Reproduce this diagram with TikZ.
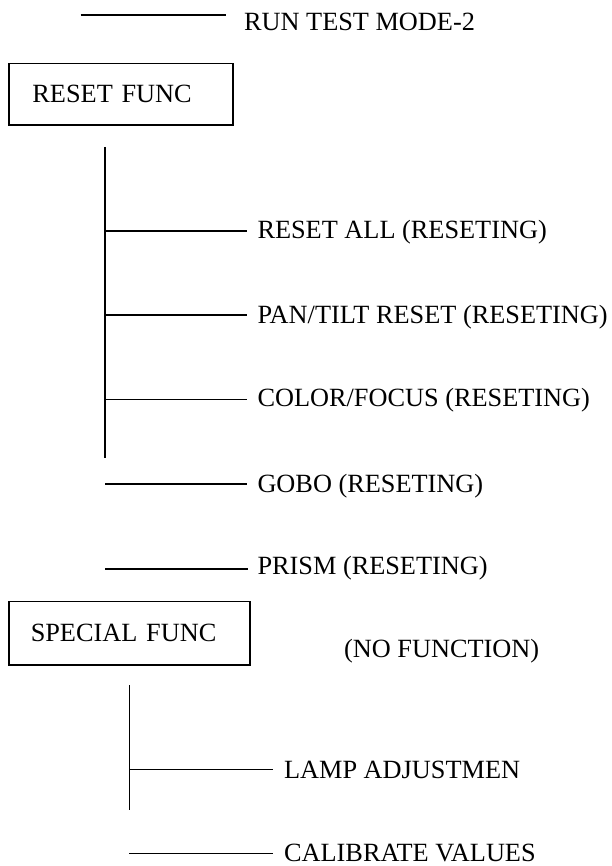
\documentclass[tikz,border=0pt]{standalone}
\usepackage{fontspec}
\setmainfont{Liberation Serif}
\begin{document}
\begin{tikzpicture}[x=1pt,y=-1pt,line width=1.6pt,
  lbl/.style={inner sep=0pt,anchor=base west,font=\fontsize{26.3}{30}\selectfont},
  funcbox/.style={draw,line width=1.5pt,anchor=north west,inner ysep=0pt,align=left,
     font=\fontsize{26.3}{30}\selectfont}]
\useasboundingbox (0,0) rectangle (612,866);
% top
\coordinate (t0) at (80.7,15);
\coordinate (t1) at (225.7,15);
\node[lbl] (run) at (243.3,30.5) {RUN TEST MODE-2};
\draw (t0) -- (t1);
% reset func box
\node[funcbox,inner xsep=23.4pt,text width=176.9pt,minimum height=61.6pt] (reset) at (8.3,62.7) {RESET FUNC};
% reset bar
\coordinate (rb0) at (105,147);
\coordinate (rb1) at (105,458);
\draw (rb0) -- (rb1);
\coordinate (ra0) at (105,231);  \coordinate (ra1) at (246.7,231);
\coordinate (pt0) at (105,315);  \coordinate (pt1) at (246.7,315);
\coordinate (cf0) at (105,399.3);\coordinate (cf1) at (246.7,399.3);
\coordinate (gb0) at (105,484);  \coordinate (gb1) at (246.7,484);
\coordinate (pr0) at (105,569);  \coordinate (pr1) at (248,569);
\draw (ra0) -- (ra1);
\draw (pt0) -- (pt1);
\draw (cf0) -- (cf1);
\draw (gb0) -- (gb1);
\draw (pr0) -- (pr1);
\node[lbl] (resetall) at (256.7,238.8) {RESET ALL (RESETING)};
\node[lbl] (pantilt) at (256.7,323.3) {PAN/TILT RESET (RESETING)};
\node[lbl] (colfoc) at (256.7,406.5) {COLOR/FOCUS (RESETING)};
\node[lbl] (gobo) at (256.7,492) {GOBO (RESETING)};
\node[lbl] (prism) at (256.7,574.5) {PRISM (RESETING)};
% special func
\node[funcbox,inner xsep=21.7pt,text width=197.6pt,minimum height=63.3pt] (special) at (8.3,600.7) {SPECIAL FUNC};
\node[lbl] (nofunc) at (343.3,657.5) {(NO FUNCTION)};
\coordinate (sb0) at (129.3,685);
\coordinate (sb1) at (129.3,810);
\draw (sb0) -- (sb1);
\coordinate (la0) at (129.3,769.3); \coordinate (la1) at (273.3,769.3);
\coordinate (ca0) at (129.3,853.3); \coordinate (ca1) at (273.3,853.3);
\draw (la0) -- (la1);
\draw (ca0) -- (ca1);
\node[lbl] (lamp) at (283.3,778.5) {LAMP ADJUSTMEN};
\node[lbl] (calib) at (283.3,861.5) {CALIBRATE VALUES};
\end{tikzpicture}
\end{document}
